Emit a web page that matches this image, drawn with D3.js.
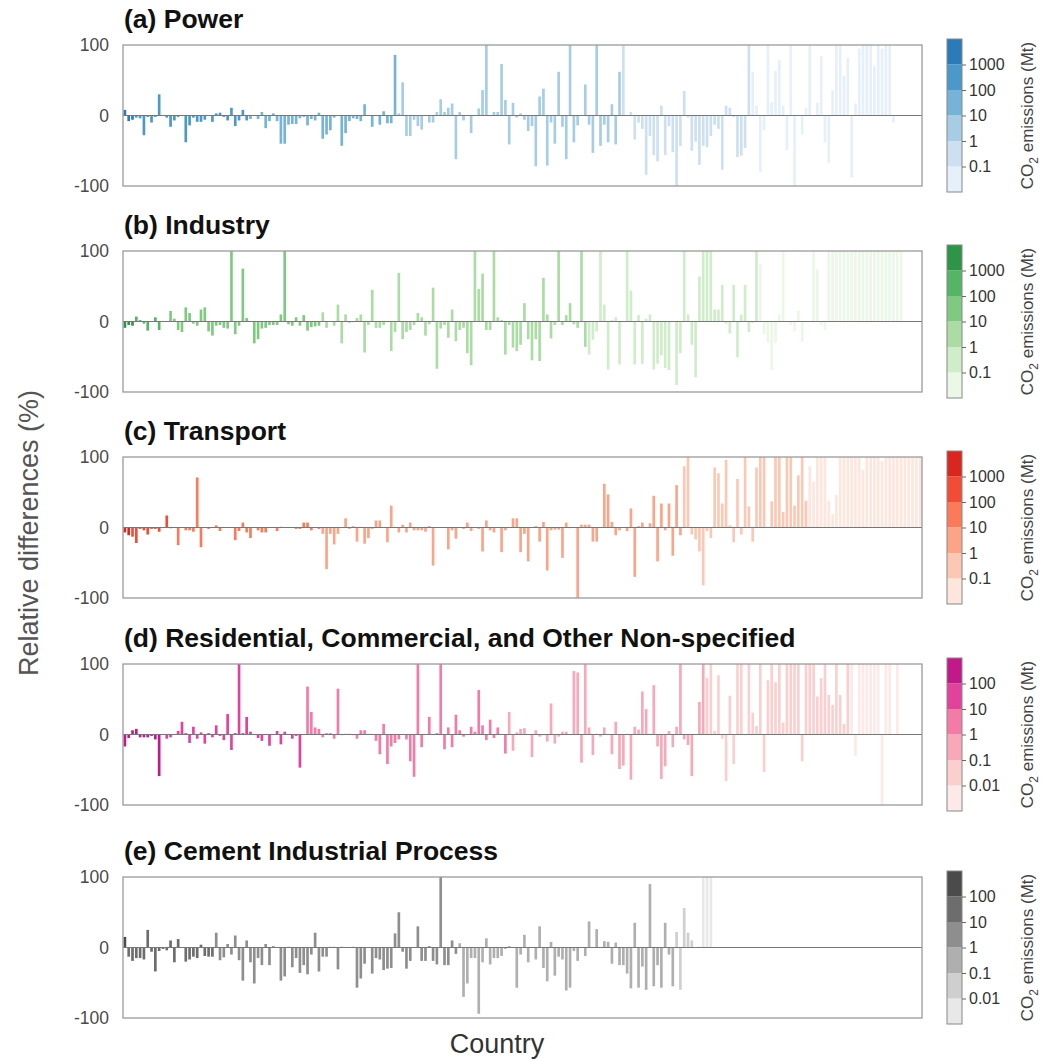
<!DOCTYPE html>
<html>
<head>
<meta charset="utf-8">
<script src="https://cdn.jsdelivr.net/npm/d3@7"></script>
<style>
  body { margin: 0; background: #fff; }
  svg { font-family: "Liberation Sans", Arial, sans-serif; }
</style>
</head>
<body>
<svg id="chart" width="1043" height="1061"></svg>
<script>
// relative differences (%) per country, ordered as in the figure
const powerDiff = [
  8,-8,-6,-3,-4,-28,-2,-10,-2,30, 0,-3,-16,-7,-2,0,-38,-14,-3,-9,
  -9,-6,0,-9,3,4,-2,-7,11,-15, -7,8,-7,-5,0,-5,5,-18,-8,3,
  -8,-40,-40,-13,-12,-12,-4,-2,-14,-5, -7,4,-33,-27,-21,-3,0,-43,-25,-8,
  -4,-5,-8,16,0,-16,0,-13,6,-11, -11,86,3,47,-29,-29,-6,-15,-20,0,
  -10,-10,5,23,5,11,17,-62,5,-7, 0,-25,0,10,36,100,0,5,5,73,
  22,-41,18,-3,
  3,-6,-22,-15,-72,27,38,-71,-10,-40, 62,-16,-62,100,-38,-14,0,44,-13,-53,
  100,-43,-13,-38,16,-41,62,100,0,5, -34,-10,-19,-84,-29,-56,-65,14,-56,-15,
  -52,-100,-43,35,-3,-50,-37,-70,-43,-45, -29,-13,-19,-77,14,11,-2,-59,-57,-46,
  100,62,14,-80,-21,100,19,63,79,14, -49,100,-100,0,-27,11,100,0,18,84,
  -38,-67,36,100,100,56,82,-88,17,95, 100,100,100,70,100,95,100,100,-10
];
const industryDiff = [
  -9,-5,-6,7,2,-3,-13,0,6,-12, 0,0,15,4,-12,-15,20,12,-3,-6,
  17,20,-14,-20,-6,-5,-9,-10,100,-18, -6,75,5,0,-31,-25,-10,-9,-5,-5,
  -5,10,100,-4,-6,6,-6,9,-13,-8, -7,-6,13,-9,0,-6,24,-31,10,-2,
  -1,5,10,-44,-5,45,-9,-9,-5,0, -42,-15,69,-25,-15,-12,-5,12,6,-20,
  -4,48,-67,-10,-5,-23,17,-28,-12,-9, -45,-62,100,46,68,-12,-12,100,6,2,
  -47,-5,-37,-42,
  -33,26,-25,-55,-25,-56,62,10,-24,-5, 100,-5,9,26,-4,-9,100,-36,-47,-26,
  -14,100,24,-68,2,6,-61,0,100,44, -61,9,-60,4,10,-68,-60,-48,-66,-69,
  0,-90,-45,100,10,-33,-79,64,100,100, 100,17,17,52,-3,-17,52,-51,10,52,
  -15,-2,100,81,-18,-30,-69,-30,10,100, 0,-5,-14,15,-29,0,0,100,74,-5,
  -12,100,100,100,100,100,100,100,100,100, 100,100,100,100,100,100,100,100,100,100,
  100
];
const transportDiff = [
  -7,-11,-13,-22,-2,-4,-10,-2,-2,-6, 0,17,-1,0,-25,0,-4,-4,-6,71,
  -28,0,-2,0,3,-5,0,0,0,-18, -5,7,-7,-15,0,-4,-7,-7,0,0,
  -5,1,0,0,0,-2,-2,7,7,-4, 0,-2,-9,-59,-9,-24,-9,0,13,-2,
  2,-20,1,-23,-15,-2,10,10,0,-21, 31,0,-7,4,-7,7,-4,-4,-4,-6,
  2,-54,0,0,0,-31,-4,-16,0,-2, 7,-5,0,-2,-34,10,-4,-7,0,-35,
  -4,0,13,13,
  -35,-9,-48,0,2,-20,8,-61,-4,-3, -3,-43,7,-1,0,-100,4,4,4,-20,
  -20,0,62,47,8,-11,-4,0,-5,27, -70,2,7,0,6,45,-48,34,-4,34,
  -40,60,-11,87,100,-10,-17,-34,-82,-5, -15,85,77,34,96,3,-21,69,-10,100,
  30,-20,85,100,100,0,37,100,100,22, 100,100,31,74,100,38,87,65,100,100,
  100,38,19,46,100,100,100,100,100,100, 82,100,100,100,100,94,100,100,100,100,
  100,100,100,100,100,100
];
const residentialDiff = [
  -17,-5,6,8,-4,-4,-4,-2,-7,-59, 0,-6,-4,0,5,18,2,-12,11,-6,
  3,-13,2,-4,13,-2,-8,29,-22,2, 100,2,25,4,0,-5,-9,0,-16,0,
  5,-14,4,0,-6,-2,-47,0,68,32, 10,8,-4,2,2,-6,65,-1,1,1,
  -1,-6,6,6,1,0,-9,-28,15,-42, -17,-12,-7,0,-7,-38,-60,100,-18,0,
  25,0,2,100,-21,10,-18,28,6,-3, 0,11,4,63,13,-8,21,-5,10,0,
  -27,32,-23,3,
  8,9,0,-32,6,-3,-1,-10,44,-13, -3,4,4,0,90,88,-40,100,10,-29,
  1,-3,10,0,-28,18,-49,-44,1,-64, 11,7,61,36,1,70,-17,-63,-45,5,
  -18,11,100,-7,-15,-59,0,46,100,80, 100,5,84,-6,-66,55,-42,100,100,-1,
  100,31,12,100,-53,77,100,74,100,17, 100,100,100,100,-38,100,100,100,54,80,
  100,56,42,100,56,15,100,100,-30,100, 100,100,100,100,100,-100,100,100,0,100
];
const cementDiff = [
  15,-13,-19,-15,-15,-17,25,-6,-34,-5, -2,-4,10,-21,12,0,-20,-17,-13,-15,
  4,-12,-13,-13,21,-18,-14,5,-10,17, -18,-47,10,-21,-51,-15,-25,5,-25,2,
  0,-47,-41,1,-28,-15,-36,-25,-38,-10, 21,-34,-13,-13,1,1,-31,1,0,0,
  1,-57,-44,-23,0,-37,-15,-17,-32,-30, -29,20,50,-6,-30,-19,0,30,-19,-19,
  2,-19,-24,100,-25,-25,10,-9,6,-70, -51,-15,-15,-94,-21,13,-24,-15,-15,-12,
  -2,2,0,-57,
  -10,18,-21,0,-17,30,-29,-48,8,-40, -13,-17,-61,-57,-5,-19,0,-12,37,0,
  26,0,9,8,-23,7,-25,-25,-37,-58, 35,-57,-27,-60,90,-55,-25,-57,35,-10,
  -55,22,-60,56,21,10,0,1,100,100, 100
];

// index where each emission class starts (class 0 = largest emitters)
const powerBreaks = [0, 3, 33, 72, 131, 165];
const industryBreaks = [0, 3, 11, 52, 122, 167];
const transportBreaks = [0, 2, 14, 52, 147, 180];
const residentialBreaks = [0, 10, 47, 101, 153, 191];
const cementBreaks = [0, 1, 24, 88, 145, 152];

// colour classes, darkest first
const blues = ["#2c7bb9", "#4b98ca", "#76b3d8", "#a6cde4", "#cce0f1", "#e6f0fa"];
const greens = ["#2f9546", "#55b566", "#80c981", "#aadca4", "#cfedc9", "#ebf7e7"];
const reds = ["#d9261f", "#f24c37", "#fb7a5a", "#fca487", "#fdc8b3", "#fee6dc"];
const pinks = ["#c1188a", "#e0429c", "#f47aa7", "#f9a8b9", "#fccfcf", "#fde9e8"];
const greys = ["#4b4b4b", "#6d6d6d", "#8e8e8e", "#afafaf", "#cfcfcf", "#e8e8e8"];

const sectorTitles = [
  "(a) Power",
  "(b) Industry",
  "(c) Transport",
  "(d) Residential, Commercial, and Other Non-specified",
  "(e) Cement Industrial Process"
];
const ticksLarge = [0.1, 1, 10, 100, 1000];
const ticksSmall = [0.01, 0.1, 1, 10, 100];
const yTicks = [-100, 0, 100];

const nCountries = 210;

const panels = [
  { title: sectorTitles[0], values: powerDiff, breaks: powerBreaks, colors: blues, ticks: ticksLarge },
  { title: sectorTitles[1], values: industryDiff, breaks: industryBreaks, colors: greens, ticks: ticksLarge },
  { title: sectorTitles[2], values: transportDiff, breaks: transportBreaks, colors: reds, ticks: ticksLarge },
  { title: sectorTitles[3], values: residentialDiff, breaks: residentialBreaks, colors: pinks, ticks: ticksSmall },
  { title: sectorTitles[4], values: cementDiff, breaks: cementBreaks, colors: greys, ticks: ticksSmall }
];

const svg = d3.select("#chart");

const left = 123,
  right = 922,
  panelTops = [45, 251, 457, 664, 877],
  panelHeight = 141,
  cbX = 947,
  cbWidth = 15,
  cbHeight = 153;

const x = d3.scaleBand().domain(d3.range(nCountries)).range([left, right]).paddingInner(0.3).paddingOuter(0.15);

panels.forEach((p, k) => {
  const top = panelTops[k];
  const y = d3.scaleLinear().domain([-100, 100]).range([top + panelHeight, top]).clamp(true);
  const g = svg.append("g");

  const classOf = (i) => d3.bisectRight(p.breaks, i) - 1;

  // bars
  g.selectAll("rect.bar")
    .data(p.values.map((v, i) => ({ v, i })).filter((d) => d.v !== 0))
    .join("rect")
    .attr("class", "bar")
    .attr("x", (d) => x(d.i))
    .attr("width", x.bandwidth())
    .attr("y", (d) => y(Math.max(0, d.v)))
    .attr("height", (d) => Math.abs(y(d.v) - y(0)))
    .attr("fill", (d) => p.colors[classOf(d.i)]);

  // zero line
  g.append("line")
    .attr("x1", left)
    .attr("x2", right)
    .attr("y1", y(0))
    .attr("y2", y(0))
    .attr("stroke", "#777")
    .attr("stroke-width", 1);

  // frame
  g.append("rect")
    .attr("x", left)
    .attr("y", top)
    .attr("width", right - left)
    .attr("height", panelHeight)
    .attr("fill", "none")
    .attr("stroke", "#9a9a9a")
    .attr("stroke-width", 1.3);

  // y axis labels
  const yAxis = g.append("g")
    .attr("transform", `translate(${left},0)`)
    .call(d3.axisLeft(y).tickValues(yTicks).tickSize(0).tickPadding(14).tickFormat((d) => String(d)));
  yAxis.select(".domain").remove();
  yAxis.selectAll("text")
    .attr("font-size", 17.5)
    .attr("fill", "#4a4a4a")
    .attr("font-family", "Liberation Sans, Arial, sans-serif");

  // panel title
  g.append("text")
    .text(p.title)
    .attr("x", left + 1)
    .attr("y", top - 17)
    .attr("font-size", 26.5)
    .attr("font-weight", "bold")
    .attr("fill", "#111");

  // colour bar
  const mid = top + panelHeight / 2;
  const lo = p.ticks[0] / 10,
    hi = p.ticks[p.ticks.length - 1] * 10;
  const c = d3.scaleLog().domain([lo, hi]).range([mid + cbHeight / 2, mid - cbHeight / 2]);
  const edges = d3.range(7).map((j) => lo * Math.pow(10, j));
  g.selectAll("rect.cb")
    .data(d3.range(6))
    .join("rect")
    .attr("class", "cb")
    .attr("x", cbX)
    .attr("width", cbWidth)
    .attr("y", (j) => c(edges[j + 1]))
    .attr("height", (j) => c(edges[j]) - c(edges[j + 1]))
    .attr("fill", (j) => p.colors[5 - j]);
  g.append("rect")
    .attr("x", cbX)
    .attr("y", mid - cbHeight / 2)
    .attr("width", cbWidth)
    .attr("height", cbHeight)
    .attr("fill", "none")
    .attr("stroke", "#888")
    .attr("stroke-width", 1);

  const cAxis = g.append("g")
    .attr("transform", `translate(${cbX + cbWidth},0)`)
    .call(d3.axisRight(c).tickValues(p.ticks).tickSize(4).tickPadding(3).tickFormat(d3.format("~g")));
  cAxis.select(".domain").remove();
  cAxis.selectAll("line").attr("stroke", "#666");
  cAxis.selectAll("text")
    .attr("font-size", 16)
    .attr("fill", "#333")
    .attr("font-family", "Liberation Sans, Arial, sans-serif");

  const cbLabel = g.append("text")
    .attr("transform", `translate(1033,${mid}) rotate(-90)`)
    .attr("text-anchor", "middle")
    .attr("font-size", 17)
    .attr("fill", "#444");
  cbLabel.append("tspan").text("CO");
  cbLabel.append("tspan").text("2").attr("font-size", 12).attr("dy", 5);
  cbLabel.append("tspan").text(" emissions (Mt)").attr("dy", -5);
});

// shared axis titles
svg.append("text")
  .text("Relative differences (%)")
  .attr("transform", "translate(38,533) rotate(-90)")
  .attr("text-anchor", "middle")
  .attr("font-size", 27)
  .attr("fill", "#555");

svg.append("text")
  .text("Country")
  .attr("x", 497)
  .attr("y", 1053)
  .attr("text-anchor", "middle")
  .attr("font-size", 27)
  .attr("fill", "#333");
</script>
</body>
</html>
